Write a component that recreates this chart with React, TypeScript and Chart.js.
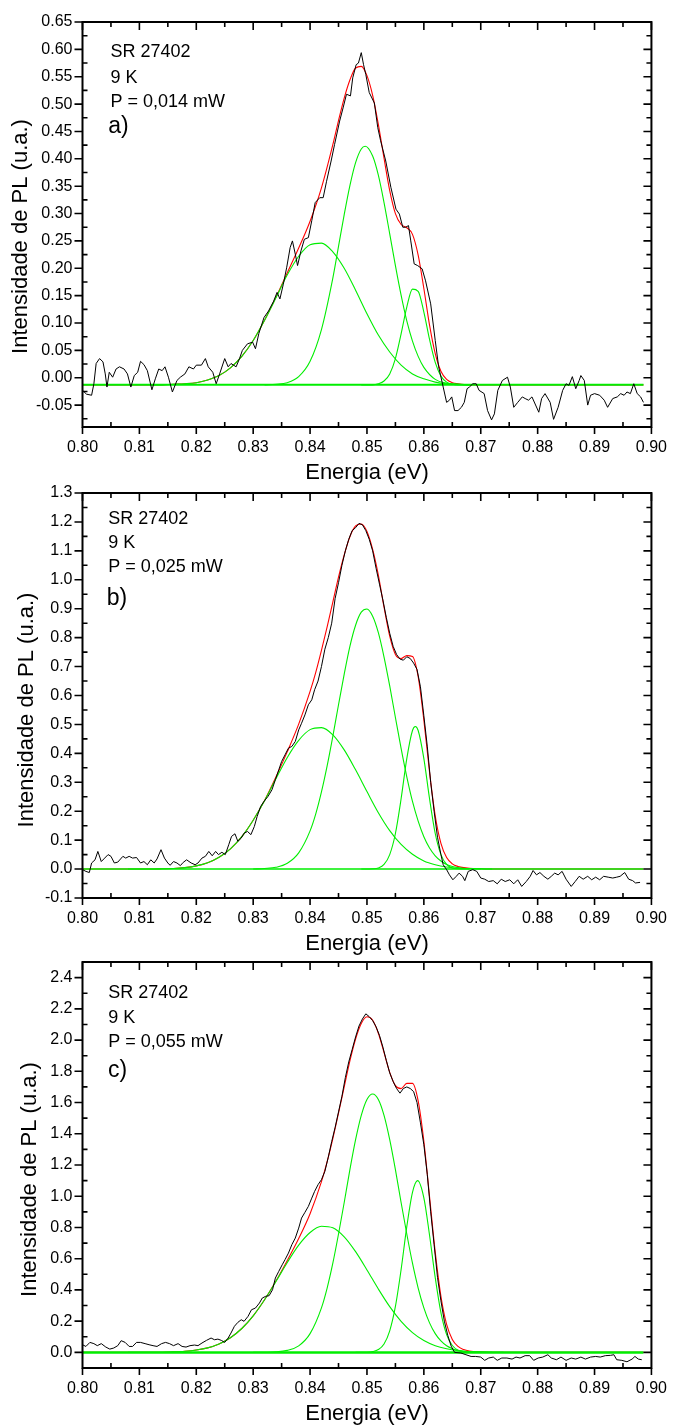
import React, { useEffect, useRef } from 'react';
import { Chart, registerables } from 'chart.js';

Chart.register(...registerables);

type Pt = [number, number];

const FONT = "'Liberation Sans', Arial, sans-serif";

// ---------- axis ticks ----------
const ENERGY_TICKS = [0.80, 0.81, 0.82, 0.83, 0.84, 0.85, 0.86, 0.87, 0.88, 0.89, 0.90];
const A_Y_TICKS = [-0.05, 0.0, 0.05, 0.10, 0.15, 0.20, 0.25, 0.30, 0.35, 0.40, 0.45, 0.50, 0.55, 0.60, 0.65];
const B_Y_TICKS = [-0.1, 0.0, 0.1, 0.2, 0.3, 0.4, 0.5, 0.6, 0.7, 0.8, 0.9, 1.0, 1.1, 1.2, 1.3];
const C_Y_TICKS = [0.0, 0.2, 0.4, 0.6, 0.8, 1.0, 1.2, 1.4, 1.6, 1.8, 2.0, 2.2, 2.4];

// ---------- panel a) P = 0,014 mW ----------
const A_SPECTRUM: Pt[] = [
  [0.8000, -0.023], [0.8007, -0.030], [0.8016, -0.032], [0.8020, -0.011], [0.8024, 0.026], [0.8030, 0.035],
  [0.8036, 0.029], [0.8040, 0.007], [0.8043, -0.017], [0.8047, 0.010], [0.8053, 0.001], [0.8059, 0.016],
  [0.8065, 0.020], [0.8073, 0.016], [0.8079, 0.007], [0.8085, -0.017], [0.8091, 0.004], [0.8097, 0.010],
  [0.8102, 0.030], [0.8108, 0.024], [0.8114, 0.013], [0.8122, -0.022], [0.8128, -0.002], [0.8134, 0.016],
  [0.8140, 0.013], [0.8145, 0.020], [0.8151, 0.001], [0.8158, -0.026], [0.8166, -0.005], [0.8172, 0.001],
  [0.8180, 0.007], [0.8187, 0.020], [0.8195, 0.016], [0.8200, 0.023], [0.8209, 0.023], [0.8216, 0.035],
  [0.8221, 0.020], [0.8229, 0.010], [0.8235, -0.011], [0.8241, 0.007], [0.8250, 0.035], [0.8256, 0.020],
  [0.8261, 0.026], [0.8270, 0.020], [0.8276, 0.035], [0.8281, 0.050], [0.8290, 0.062], [0.8299, 0.065],
  [0.8304, 0.053], [0.8310, 0.081], [0.8319, 0.110], [0.8327, 0.122], [0.8336, 0.140], [0.8342, 0.156],
  [0.8347, 0.144], [0.8353, 0.171], [0.8359, 0.202], [0.8365, 0.238], [0.8369, 0.250], [0.8374, 0.226],
  [0.8378, 0.205], [0.8384, 0.232], [0.8390, 0.253], [0.8397, 0.256], [0.8403, 0.287], [0.8409, 0.320],
  [0.8417, 0.329], [0.8423, 0.329], [0.8429, 0.359], [0.8437, 0.396], [0.8443, 0.426], [0.8452, 0.469],
  [0.8458, 0.493], [0.8464, 0.518], [0.8471, 0.515], [0.8475, 0.548], [0.8481, 0.572], [0.8485, 0.575],
  [0.8490, 0.594], [0.8494, 0.572], [0.8498, 0.554], [0.8504, 0.521], [0.8513, 0.502], [0.8519, 0.457],
  [0.8524, 0.433], [0.8533, 0.396], [0.8542, 0.348], [0.8551, 0.308], [0.8557, 0.299], [0.8563, 0.275],
  [0.8568, 0.275], [0.8573, 0.278], [0.8577, 0.250], [0.8583, 0.208], [0.8589, 0.205], [0.8597, 0.199],
  [0.8603, 0.177], [0.8612, 0.135], [0.8620, 0.068], [0.8626, 0.020], [0.8634, -0.017], [0.8640, -0.045],
  [0.8645, -0.041], [0.8649, -0.035], [0.8654, -0.060], [0.8660, -0.060], [0.8666, -0.054], [0.8671, -0.045],
  [0.8676, -0.020], [0.8680, -0.017], [0.8686, -0.011], [0.8692, -0.011], [0.8697, -0.023], [0.8706, -0.029],
  [0.8712, -0.060], [0.8719, -0.077], [0.8724, -0.066], [0.8730, -0.023], [0.8738, -0.005], [0.8747, 0.001],
  [0.8752, -0.017], [0.8758, -0.054], [0.8765, -0.045], [0.8773, -0.035], [0.8778, -0.038], [0.8784, -0.041],
  [0.8790, -0.035], [0.8802, -0.063], [0.8807, -0.038], [0.8813, -0.029], [0.8822, -0.045], [0.8828, -0.076],
  [0.8836, -0.054], [0.8844, -0.023], [0.8850, -0.011], [0.8855, -0.014], [0.8861, 0.002], [0.8867, -0.020],
  [0.8873, -0.005], [0.8876, 0.004], [0.8882, -0.005], [0.8888, -0.050], [0.8893, -0.032], [0.8900, -0.029],
  [0.8909, -0.032], [0.8917, -0.041], [0.8923, -0.054], [0.8932, -0.038], [0.8940, -0.035], [0.8946, -0.029],
  [0.8952, -0.032], [0.8957, -0.026], [0.8963, -0.029], [0.8969, -0.011], [0.8975, -0.029], [0.8981, -0.035],
  [0.8986, -0.045],
];
const A_FIT: Pt[] = [
  [0.800, -0.013], [0.812, -0.013], [0.814, -0.013], [0.816, -0.012], [0.818, -0.011], [0.820, -0.009],
  [0.822, -0.004], [0.824, 0.004], [0.826, 0.018], [0.828, 0.039], [0.830, 0.068], [0.832, 0.105],
  [0.834, 0.147], [0.836, 0.192], [0.838, 0.237], [0.840, 0.286], [0.842, 0.347], [0.844, 0.426],
  [0.845, 0.470], [0.846, 0.511], [0.847, 0.544], [0.848, 0.566], [0.849, 0.569], [0.850, 0.552],
  [0.851, 0.516], [0.852, 0.463], [0.853, 0.401], [0.854, 0.342], [0.855, 0.300], [0.856, 0.280],
  [0.857, 0.274], [0.858, 0.262], [0.859, 0.224], [0.860, 0.163], [0.861, 0.096], [0.862, 0.044],
  [0.863, 0.012], [0.864, -0.003], [0.865, -0.009], [0.866, -0.011], [0.868, -0.013], [0.870, -0.013],
  [0.8986, -0.013],
];
const A_PEAK1: Pt[] = [
  [0.812, -0.013], [0.814, -0.013], [0.816, -0.012], [0.818, -0.011], [0.820, -0.009], [0.822, -0.004],
  [0.824, 0.004], [0.826, 0.018], [0.828, 0.039], [0.830, 0.068], [0.832, 0.105], [0.834, 0.146],
  [0.836, 0.188], [0.838, 0.222], [0.840, 0.243], [0.842, 0.246], [0.844, 0.230], [0.846, 0.200],
  [0.848, 0.160], [0.850, 0.117], [0.852, 0.078], [0.854, 0.047], [0.856, 0.023], [0.858, 0.007],
  [0.860, -0.002], [0.862, -0.008], [0.864, -0.011], [0.866, -0.012], [0.868, -0.013],
];
const A_PEAK2: Pt[] = [
  [0.832, -0.013], [0.834, -0.012], [0.836, -0.009], [0.838, 0.002], [0.840, 0.030], [0.842, 0.088],
  [0.844, 0.182], [0.845, 0.240], [0.846, 0.298], [0.847, 0.351], [0.848, 0.393], [0.849, 0.418],
  [0.8497, 0.423], [0.851, 0.405], [0.852, 0.370], [0.853, 0.320], [0.854, 0.263], [0.855, 0.205],
  [0.856, 0.151], [0.857, 0.104], [0.858, 0.067], [0.859, 0.039], [0.860, 0.019], [0.862, -0.003],
  [0.864, -0.010], [0.866, -0.012], [0.868, -0.013],
];
const A_PEAK3: Pt[] = [
  [0.849, -0.013], [0.851, -0.013], [0.852, -0.011], [0.853, -0.006], [0.854, 0.007], [0.855, 0.035],
  [0.856, 0.080], [0.857, 0.129], [0.858, 0.162], [0.859, 0.158], [0.860, 0.120], [0.861, 0.070],
  [0.862, 0.028], [0.863, 0.003], [0.864, -0.008], [0.865, -0.012], [0.866, -0.013], [0.868, -0.013],
];
const A_BASE: Pt[] = [[0.800, -0.013], [0.8986, -0.013]];

// ---------- panel b) P = 0,025 mW ----------
const B_SPECTRUM: Pt[] = [
  [0.8000, -0.002], [0.8006, -0.008], [0.8012, -0.012], [0.8016, 0.021], [0.8022, 0.032], [0.8027, 0.061],
  [0.8033, 0.026], [0.8039, 0.038], [0.8045, 0.050], [0.8050, 0.044], [0.8056, 0.021], [0.8062, 0.024],
  [0.8071, 0.044], [0.8076, 0.038], [0.8082, 0.044], [0.8088, 0.038], [0.8095, 0.040], [0.8102, 0.021],
  [0.8108, 0.026], [0.8114, 0.015], [0.8120, 0.032], [0.8126, 0.021], [0.8131, 0.035], [0.8138, 0.067],
  [0.8144, 0.038], [0.8150, 0.021], [0.8154, 0.013], [0.8160, 0.026], [0.8166, 0.021], [0.8172, 0.012],
  [0.8177, 0.023], [0.8183, 0.032], [0.8191, 0.021], [0.8198, 0.015], [0.8203, 0.021], [0.8210, 0.038],
  [0.8216, 0.044], [0.8222, 0.061], [0.8228, 0.046], [0.8234, 0.061], [0.8239, 0.050], [0.8245, 0.058],
  [0.8251, 0.050], [0.8257, 0.084], [0.8262, 0.113], [0.8268, 0.122], [0.8273, 0.096], [0.8279, 0.107],
  [0.8284, 0.124], [0.8290, 0.130], [0.8296, 0.119], [0.8302, 0.147], [0.8307, 0.182], [0.8313, 0.216],
  [0.8319, 0.234], [0.8326, 0.251], [0.8333, 0.274], [0.8339, 0.309], [0.8345, 0.343], [0.8350, 0.372],
  [0.8356, 0.395], [0.8362, 0.418], [0.8368, 0.424], [0.8374, 0.441], [0.8380, 0.481], [0.8385, 0.504],
  [0.8391, 0.533], [0.8397, 0.568], [0.8403, 0.585], [0.8408, 0.620], [0.8414, 0.650], [0.8420, 0.700],
  [0.8426, 0.760], [0.8432, 0.800], [0.8438, 0.850], [0.8444, 0.935], [0.8450, 0.990], [0.8456, 1.050],
  [0.8462, 1.100], [0.8468, 1.140], [0.8474, 1.170], [0.8480, 1.180], [0.8486, 1.195], [0.8492, 1.190],
  [0.8498, 1.170], [0.8504, 1.140], [0.8510, 1.100], [0.8516, 1.040], [0.8522, 0.985], [0.8528, 0.930],
  [0.8534, 0.870], [0.8540, 0.815], [0.8546, 0.770], [0.8552, 0.742], [0.8558, 0.726], [0.8564, 0.722],
  [0.8570, 0.734], [0.8576, 0.728], [0.8582, 0.712], [0.8588, 0.690], [0.8594, 0.630], [0.8600, 0.530],
  [0.8606, 0.425], [0.8612, 0.300], [0.8618, 0.200], [0.8624, 0.110], [0.8630, 0.050], [0.8634, 0.015],
  [0.8640, -0.002], [0.8645, -0.020], [0.8651, -0.037], [0.8657, -0.025], [0.8662, -0.014], [0.8668, -0.025],
  [0.8672, -0.040], [0.8678, -0.008], [0.8686, -0.002], [0.8693, -0.008], [0.8700, -0.031], [0.8707, -0.035],
  [0.8714, -0.043], [0.8722, -0.040], [0.8729, -0.051], [0.8736, -0.035], [0.8743, -0.043], [0.8751, -0.037],
  [0.8758, -0.051], [0.8765, -0.037], [0.8772, -0.060], [0.8780, -0.043], [0.8787, -0.025], [0.8792, -0.005],
  [0.8798, -0.020], [0.8804, -0.012], [0.8811, -0.025], [0.8818, -0.035], [0.8824, -0.025], [0.8830, -0.014],
  [0.8836, -0.020], [0.8843, -0.008], [0.8850, -0.035], [0.8859, -0.060], [0.8866, -0.043], [0.8873, -0.025],
  [0.8880, -0.035], [0.8888, -0.025], [0.8895, -0.037], [0.8902, -0.028], [0.8909, -0.037], [0.8916, -0.025],
  [0.8924, -0.028], [0.8932, -0.031], [0.8939, -0.028], [0.8945, -0.025], [0.8953, -0.012], [0.8960, -0.035],
  [0.8967, -0.040], [0.8972, -0.048], [0.8980, -0.046],
];
const B_FIT: Pt[] = [
  [0.800, 0.000], [0.812, 0.000], [0.814, 0.001], [0.816, 0.002], [0.818, 0.005], [0.820, 0.011],
  [0.822, 0.022], [0.824, 0.041], [0.826, 0.070], [0.828, 0.112], [0.830, 0.169], [0.832, 0.237],
  [0.834, 0.318], [0.836, 0.406], [0.838, 0.501], [0.840, 0.614], [0.841, 0.680], [0.842, 0.756],
  [0.843, 0.837], [0.844, 0.923], [0.845, 1.009], [0.846, 1.086], [0.847, 1.149], [0.848, 1.186],
  [0.849, 1.193], [0.850, 1.167], [0.851, 1.105], [0.852, 1.016], [0.853, 0.905], [0.854, 0.805],
  [0.855, 0.742], [0.856, 0.728], [0.857, 0.738], [0.858, 0.735], [0.859, 0.665], [0.860, 0.515],
  [0.861, 0.335], [0.862, 0.184], [0.863, 0.089], [0.864, 0.040], [0.865, 0.018], [0.866, 0.009],
  [0.868, 0.003], [0.870, 0.001], [0.872, 0.000], [0.8986, 0.000],
];
const B_PEAK1: Pt[] = [
  [0.808, 0.000], [0.812, 0.000], [0.814, 0.001], [0.816, 0.002], [0.818, 0.005], [0.820, 0.011],
  [0.822, 0.022], [0.824, 0.041], [0.826, 0.070], [0.828, 0.112], [0.830, 0.169], [0.832, 0.236],
  [0.834, 0.312], [0.836, 0.386], [0.838, 0.445], [0.840, 0.482], [0.842, 0.489], [0.844, 0.464],
  [0.846, 0.412], [0.848, 0.343], [0.850, 0.268], [0.852, 0.195], [0.854, 0.133], [0.856, 0.085],
  [0.858, 0.051], [0.860, 0.028], [0.862, 0.015], [0.864, 0.007], [0.866, 0.003], [0.868, 0.002],
  [0.870, 0.001], [0.872, 0.000],
];
const B_PEAK2: Pt[] = [
  [0.830, 0.000], [0.832, 0.002], [0.834, 0.006], [0.836, 0.020], [0.838, 0.056], [0.840, 0.132],
  [0.841, 0.191], [0.842, 0.267], [0.843, 0.357], [0.844, 0.459], [0.845, 0.568], [0.846, 0.674],
  [0.847, 0.770], [0.848, 0.843], [0.849, 0.888], [0.850, 0.899], [0.851, 0.874], [0.852, 0.817],
  [0.853, 0.733], [0.854, 0.633], [0.855, 0.524], [0.856, 0.417], [0.857, 0.319], [0.858, 0.234],
  [0.859, 0.166], [0.860, 0.112], [0.861, 0.073], [0.862, 0.046], [0.863, 0.028], [0.864, 0.016],
  [0.865, 0.009], [0.866, 0.005], [0.868, 0.001], [0.870, 0.000],
];
const B_PEAK3: Pt[] = [
  [0.849, 0.000], [0.851, 0.001], [0.852, 0.004], [0.853, 0.016], [0.854, 0.050], [0.855, 0.123],
  [0.856, 0.243], [0.857, 0.382], [0.858, 0.479], [0.8585, 0.493], [0.859, 0.479], [0.860, 0.382],
  [0.861, 0.243], [0.862, 0.123], [0.863, 0.050], [0.864, 0.016], [0.865, 0.004], [0.866, 0.001],
  [0.868, 0.000],
];
const B_BASE: Pt[] = [[0.800, 0.0], [0.8986, 0.0]];

// ---------- panel c) P = 0,055 mW ----------
const C_SPECTRUM: Pt[] = [
  [0.8000, 0.049], [0.8006, 0.038], [0.8013, 0.064], [0.8020, 0.056], [0.8026, 0.043], [0.8033, 0.056],
  [0.8041, 0.034], [0.8048, 0.021], [0.8055, 0.028], [0.8062, 0.043], [0.8068, 0.075], [0.8075, 0.064],
  [0.8082, 0.038], [0.8088, 0.038], [0.8095, 0.064], [0.8102, 0.064], [0.8110, 0.056], [0.8117, 0.049],
  [0.8124, 0.043], [0.8131, 0.038], [0.8139, 0.056], [0.8146, 0.064], [0.8153, 0.056], [0.8160, 0.043],
  [0.8168, 0.056], [0.8175, 0.038], [0.8182, 0.034], [0.8189, 0.043], [0.8197, 0.047], [0.8203, 0.043],
  [0.8210, 0.060], [0.8218, 0.077], [0.8226, 0.092], [0.8232, 0.081], [0.8238, 0.085], [0.8244, 0.077],
  [0.8250, 0.064], [0.8256, 0.092], [0.8261, 0.124], [0.8267, 0.167], [0.8273, 0.192], [0.8279, 0.209],
  [0.8284, 0.199], [0.8291, 0.231], [0.8297, 0.273], [0.8304, 0.284], [0.8311, 0.316], [0.8316, 0.348],
  [0.8322, 0.359], [0.8328, 0.363], [0.8334, 0.401], [0.8339, 0.476], [0.8345, 0.519], [0.8351, 0.561],
  [0.8356, 0.594], [0.8362, 0.636], [0.8368, 0.690], [0.8374, 0.732], [0.8380, 0.796], [0.8385, 0.860],
  [0.8391, 0.897], [0.8397, 0.935], [0.8403, 0.988], [0.8408, 1.031], [0.8414, 1.074], [0.8420, 1.106],
  [0.8426, 1.159], [0.8432, 1.250], [0.8438, 1.350], [0.8444, 1.440], [0.8450, 1.540], [0.8456, 1.640],
  [0.8462, 1.760], [0.8468, 1.860], [0.8474, 1.940], [0.8480, 2.020], [0.8486, 2.090], [0.8492, 2.135],
  [0.8498, 2.168], [0.8504, 2.150], [0.8510, 2.125], [0.8516, 2.085], [0.8522, 2.030], [0.8528, 1.955],
  [0.8534, 1.870], [0.8540, 1.790], [0.8546, 1.735], [0.8552, 1.690], [0.8558, 1.660], [0.8564, 1.690],
  [0.8570, 1.700], [0.8576, 1.690], [0.8582, 1.670], [0.8588, 1.600], [0.8594, 1.470], [0.8600, 1.330],
  [0.8606, 1.140], [0.8612, 0.900], [0.8618, 0.690], [0.8624, 0.480], [0.8630, 0.330], [0.8636, 0.200],
  [0.8642, 0.110], [0.8648, 0.040], [0.8654, 0.000], [0.8665, -0.004], [0.8674, -0.015], [0.8683, -0.026],
  [0.8691, -0.026], [0.8700, -0.030], [0.8707, -0.051], [0.8714, -0.036], [0.8722, -0.030], [0.8729, -0.051],
  [0.8737, -0.036], [0.8746, -0.036], [0.8755, -0.043], [0.8762, -0.030], [0.8769, -0.036], [0.8778, -0.021],
  [0.8786, -0.021], [0.8793, -0.051], [0.8801, -0.036], [0.8809, -0.030], [0.8818, -0.015], [0.8824, -0.036],
  [0.8833, -0.047], [0.8841, -0.030], [0.8850, -0.051], [0.8859, -0.036], [0.8867, -0.043], [0.8876, -0.030],
  [0.8884, -0.043], [0.8893, -0.030], [0.8902, -0.026], [0.8910, -0.030], [0.8919, -0.021], [0.8928, -0.019],
  [0.8934, -0.015], [0.8939, -0.047], [0.8948, -0.051], [0.8957, -0.060], [0.8966, -0.043], [0.8971, -0.026],
  [0.8977, -0.043], [0.8983, -0.047],
];
const C_FIT: Pt[] = [
  [0.800, 0.000], [0.810, 0.000], [0.812, 0.001], [0.814, 0.001], [0.816, 0.003], [0.818, 0.007],
  [0.820, 0.015], [0.822, 0.029], [0.824, 0.054], [0.826, 0.094], [0.828, 0.153], [0.830, 0.234],
  [0.832, 0.337], [0.834, 0.457], [0.836, 0.589], [0.838, 0.729], [0.840, 0.888], [0.842, 1.093],
  [0.843, 1.221], [0.844, 1.369], [0.845, 1.532], [0.846, 1.700], [0.847, 1.867], [0.848, 2.007],
  [0.849, 2.106], [0.850, 2.149], [0.851, 2.127], [0.852, 2.044], [0.853, 1.920], [0.854, 1.793],
  [0.855, 1.708], [0.856, 1.689], [0.857, 1.723], [0.858, 1.723], [0.859, 1.610], [0.860, 1.351],
  [0.861, 0.997], [0.862, 0.642], [0.863, 0.359], [0.864, 0.179], [0.865, 0.083], [0.866, 0.038],
  [0.867, 0.018], [0.868, 0.009], [0.870, 0.003], [0.872, 0.001], [0.874, 0.000], [0.8986, 0.000],
];
const C_PEAK1: Pt[] = [
  [0.808, 0.000], [0.812, 0.001], [0.814, 0.001], [0.816, 0.003], [0.818, 0.007], [0.820, 0.015],
  [0.822, 0.029], [0.824, 0.054], [0.826, 0.094], [0.828, 0.153], [0.830, 0.234], [0.832, 0.337],
  [0.834, 0.454], [0.836, 0.576], [0.838, 0.687], [0.840, 0.768], [0.842, 0.808], [0.844, 0.798],
  [0.846, 0.740], [0.848, 0.645], [0.850, 0.528], [0.852, 0.406], [0.854, 0.293], [0.856, 0.199],
  [0.858, 0.127], [0.860, 0.076], [0.862, 0.043], [0.864, 0.023], [0.866, 0.011], [0.868, 0.005],
  [0.870, 0.002], [0.872, 0.001], [0.874, 0.000],
];
const C_PEAK2: Pt[] = [
  [0.830, 0.000], [0.832, 0.001], [0.834, 0.003], [0.836, 0.013], [0.838, 0.042], [0.840, 0.120],
  [0.842, 0.285], [0.843, 0.412], [0.844, 0.571], [0.845, 0.758], [0.846, 0.960], [0.847, 1.170],
  [0.848, 1.362], [0.849, 1.518], [0.850, 1.620], [0.851, 1.655], [0.852, 1.620], [0.853, 1.518],
  [0.854, 1.362], [0.855, 1.170], [0.856, 0.960], [0.857, 0.758], [0.858, 0.571], [0.859, 0.412],
  [0.860, 0.285], [0.861, 0.189], [0.862, 0.120], [0.863, 0.073], [0.864, 0.042], [0.865, 0.024],
  [0.866, 0.013], [0.868, 0.003], [0.870, 0.001], [0.872, 0.000],
];
const C_PEAK3: Pt[] = [
  [0.848, 0.000], [0.850, 0.001], [0.851, 0.005], [0.852, 0.018], [0.853, 0.054], [0.854, 0.138],
  [0.855, 0.294], [0.856, 0.530], [0.857, 0.805], [0.858, 1.025], [0.8589, 1.100], [0.860, 0.990],
  [0.861, 0.750], [0.862, 0.479], [0.863, 0.255], [0.864, 0.114], [0.865, 0.044], [0.866, 0.014],
  [0.867, 0.004], [0.868, 0.001], [0.870, 0.000],
];
const C_BASE: Pt[] = [[0.800, 0.0], [0.8986, 0.0]];

// ---------- panel layout / text ----------
interface Panel {
  top: number; height: number; padTop: number; axisH: number;
  yMin: number; yMax: number; yTicks: number[]; decimals: number;
  spectrum: Pt[]; fit: Pt[]; peaks: Pt[][]; base: Pt[]; baseWidth: number;
  notes: string[]; noteX: number; noteY: number[];
  tag: string; tagX: number; tagY: number;
  yTitleX: number; yTitleDy: number;
}

const NOTES_A = ['SR 27402', '9 K', 'P = 0,014 mW'];
const NOTES_B = ['SR 27402', '9 K', 'P = 0,025 mW'];
const NOTES_C = ['SR 27402', '9 K', 'P = 0,055 mW'];

const PANELS: Panel[] = [
  {
    top: 0, height: 486, padTop: 22, axisH: 59,
    yMin: -0.09, yMax: 0.65, yTicks: A_Y_TICKS, decimals: 2,
    spectrum: A_SPECTRUM, fit: A_FIT, peaks: [A_PEAK1, A_PEAK2, A_PEAK3], base: A_BASE, baseWidth: 2,
    notes: NOTES_A, noteX: 110.5, noteY: [35.3, 60.7, 84.7],
    tag: 'a)', tagX: 108.3, tagY: 111.3, yTitleX: 27, yTitleDy: 214.5,
  },
  {
    top: 470, height: 486, padTop: 23, axisH: 58,
    yMin: -0.1, yMax: 1.3, yTicks: B_Y_TICKS, decimals: 1,
    spectrum: B_SPECTRUM, fit: B_FIT, peaks: [B_PEAK1, B_PEAK2, B_PEAK3], base: B_BASE, baseWidth: 1.5,
    notes: NOTES_B, noteX: 108.3, noteY: [31, 55.3, 79],
    tag: 'b)', tagX: 106.7, tagY: 112, yTitleX: 33, yTitleDy: 217,
  },
  {
    top: 940, height: 486, padTop: 22, axisH: 58,
    yMin: -0.1, yMax: 2.5, yTicks: C_Y_TICKS, decimals: 1,
    spectrum: C_SPECTRUM, fit: C_FIT, peaks: [C_PEAK1, C_PEAK2, C_PEAK3], base: C_BASE, baseWidth: 2.5,
    notes: NOTES_C, noteX: 108.3, noteY: [36.3, 60.7, 85.3],
    tag: 'c)', tagX: 108, tagY: 114.7, yTitleX: 36, yTitleDy: 217.5,
  },
];

function minorTicks(major: number[], min: number, max: number): number[] {
  const step = major[1] - major[0];
  const out: number[] = [];
  for (let v = major[0] - step / 2; v <= max + 1e-9; v += step) {
    if (v >= min - 1e-9) out.push(v);
  }
  return out;
}

const toXY = (pts: Pt[]) => pts.map(([x, y]) => ({ x, y }));

function makeDecor(p: Panel) {
  return {
    id: 'decor',
    afterDraw(chart: any) {
      const { ctx, chartArea: a, scales } = chart;
      const xs = scales.x;
      const ys = scales.y;
      ctx.save();
      ctx.strokeStyle = '#000';
      ctx.lineWidth = 2;
      ctx.strokeRect(a.left, a.top, a.right - a.left, a.bottom - a.top);

      ctx.lineWidth = 1.6;
      ctx.beginPath();
      for (const v of ENERGY_TICKS) {
        const x = xs.getPixelForValue(v);
        ctx.moveTo(x, a.bottom); ctx.lineTo(x, a.bottom + 7);
        ctx.moveTo(x, a.top); ctx.lineTo(x, a.top + 8);
      }
      for (const v of minorTicks(ENERGY_TICKS, 0.8, 0.9)) {
        const x = xs.getPixelForValue(v);
        ctx.moveTo(x, a.bottom); ctx.lineTo(x, a.bottom - 5);
        ctx.moveTo(x, a.top); ctx.lineTo(x, a.top + 5);
      }
      for (const v of p.yTicks) {
        const y = ys.getPixelForValue(v);
        ctx.moveTo(a.left - 8, y); ctx.lineTo(a.left, y);
        ctx.moveTo(a.right - 8, y); ctx.lineTo(a.right, y);
      }
      for (const v of minorTicks(p.yTicks, p.yMin, p.yMax)) {
        const y = ys.getPixelForValue(v);
        ctx.moveTo(a.left, y); ctx.lineTo(a.left + 5, y);
        ctx.moveTo(a.right - 5, y); ctx.lineTo(a.right, y);
      }
      ctx.stroke();

      ctx.fillStyle = '#000';
      ctx.textBaseline = 'alphabetic';
      ctx.textAlign = 'left';
      ctx.font = `18px ${FONT}`;
      p.notes.forEach((t, i) => ctx.fillText(t, p.noteX, a.top + p.noteY[i]));
      ctx.font = `23px ${FONT}`;
      ctx.fillText(p.tag, p.tagX, a.top + p.tagY);

      ctx.font = `22px ${FONT}`;
      ctx.textAlign = 'center';
      ctx.fillText('Energia (eV)', (a.left + a.right) / 2, a.bottom + 51.5);
      ctx.translate(p.yTitleX, a.top + p.yTitleDy);
      ctx.rotate(-Math.PI / 2);
      ctx.fillText('Intensidade de PL (u.a.)', 0, 0);
      ctx.restore();
    },
  };
}

function PanelChart({ p }: { p: Panel }) {
  const ref = useRef<HTMLCanvasElement | null>(null);
  useEffect(() => {
    if (!ref.current) return;
    const smooth = { pointRadius: 0, borderWidth: 1.1, cubicInterpolationMode: 'monotone' as const, fill: false };
    const chart = new Chart(ref.current, {
      type: 'line',
      data: {
        datasets: [
          { data: toXY(p.spectrum), borderColor: '#000000', borderWidth: 1, pointRadius: 0, tension: 0, fill: false },
          { data: toXY(p.base), borderColor: '#00ee00', borderWidth: p.baseWidth, pointRadius: 0, tension: 0, fill: false },
          ...p.peaks.map((pk) => ({ data: toXY(pk), borderColor: '#00ee00', ...smooth })),
          { data: toXY(p.fit), borderColor: '#ff0000', ...smooth },
        ],
      },
      options: {
        animation: false,
        responsive: false,
        devicePixelRatio: 1,
        parsing: true,
        layout: { padding: { top: p.padTop, right: 18, left: 0, bottom: 0 } },
        plugins: { legend: { display: false }, tooltip: { enabled: false } },
        scales: {
          x: {
            type: 'linear', min: 0.8, max: 0.9,
            afterBuildTicks: (s: any) => { s.ticks = ENERGY_TICKS.map((v) => ({ value: v })); },
            afterFit: (s: any) => { s.height = p.axisH; },
            grid: { display: false, drawTicks: false },
            border: { display: false },
            ticks: {
              autoSkip: false, maxRotation: 0, padding: 11, color: '#000',
              font: { size: 16, family: FONT },
              callback: (v: any) => Number(v).toFixed(2),
            },
          },
          y: {
            type: 'linear', min: p.yMin, max: p.yMax,
            afterBuildTicks: (s: any) => { s.ticks = p.yTicks.map((v) => ({ value: v })); },
            afterFit: (s: any) => { s.width = 82.5; },
            grid: { display: false, drawTicks: false },
            border: { display: false },
            ticks: {
              autoSkip: false, padding: 10, color: '#000',
              font: { size: 16, family: FONT },
              callback: (v: any) => Number(v).toFixed(p.decimals),
            },
          },
        },
      },
      plugins: [makeDecor(p)],
    } as any);
    return () => chart.destroy();
  }, [p]);
  return (
    <canvas
      ref={ref}
      width={678}
      height={p.height}
      style={{ position: 'absolute', left: 0, top: p.top, width: 678, height: p.height, display: 'block' }}
    />
  );
}

export default function App() {
  return (
    <div style={{ position: 'absolute', left: 0, top: 0, width: 678, height: 1426, background: '#fff', overflow: 'hidden' }}>
      {PANELS.map((p, i) => <PanelChart key={i} p={p} />)}
    </div>
  );
}
